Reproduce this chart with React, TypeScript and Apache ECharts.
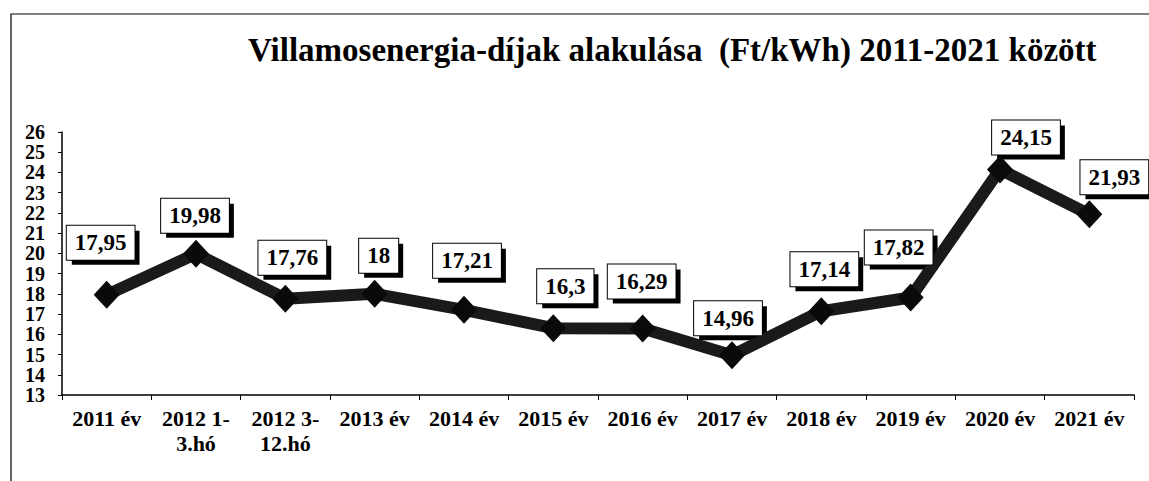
import React, { useEffect, useRef } from "react";
import * as echarts from "echarts";

const categories = [
  "2011 év",
  "2012 1-\n3.hó",
  "2012 3-\n12.hó",
  "2013 év",
  "2014 év",
  "2015 év",
  "2016 év",
  "2017 év",
  "2018 év",
  "2019 év",
  "2020 év",
  "2021 év",
];
const prices = [17.95, 19.98, 17.76, 18, 17.21, 16.3, 16.29, 14.96, 17.14, 17.82, 24.15, 21.93];
const titleText = "Villamosenergia-díjak alakulása  (Ft/kWh) 2011-2021 között";
const yMin = 13;
const yMax = 26;

// label box placement relative to each point (style only)
const labelOffsets: [number, number][] = [
  [-6, -52],
  [-1, -38],
  [7, -41],
  [4, -38],
  [3, -49],
  [12, -42],
  [-1, -47],
  [-4, -37],
  [3, -42],
  [-12, -50],
  [26, -32],
  [25, -37],
];

const FONT = "Liberation Serif, serif";
const LABEL_SIZE = 23;
const LABEL_LH = 24;
const PAD_V = 5;
const PAD_H = 8;
const SHADOW = 5;

const fmtValue = (v: number) => String(v).replace(".", ",");

let measureCtx: CanvasRenderingContext2D | null = null;
function textWidth(t: string): number {
  if (!measureCtx) measureCtx = document.createElement("canvas").getContext("2d");
  if (!measureCtx) return t.length * 12;
  measureCtx.font = `bold ${LABEL_SIZE}px 'Liberation Serif', serif`;
  return measureCtx.measureText(t).width;
}

export default function App() {
  const ref = useRef<HTMLDivElement>(null);
  useEffect(() => {
    if (!ref.current) return;
    const chart = echarts.init(ref.current, null, { renderer: "svg" });
    chart.setOption({
      animation: false,
      backgroundColor: "#ffffff",
      title: {
        text: titleText,
        left: 243,
        top: 28,
        textStyle: { fontFamily: FONT, fontWeight: "bold", fontSize: 33, color: "#000" },
      },
      graphic: [
        {
          type: "rect",
          shape: { x: 11, y: 14, width: 1160, height: 500 },
          style: { fill: "none", stroke: "#000", lineWidth: 1.2 },
          silent: true,
        },
      ],
      grid: { left: 62, right: 15, top: 132, bottom: 86 },
      xAxis: {
        type: "category",
        data: categories,
        boundaryGap: true,
        axisLine: { lineStyle: { color: "#000", width: 1.5 } },
        axisTick: { show: true, length: 5, lineStyle: { color: "#000" } },
        axisLabel: {
          fontFamily: FONT,
          fontWeight: "bold",
          fontSize: 22,
          color: "#000",
          lineHeight: 25,
          margin: 11,
          interval: 0,
        },
        splitLine: { show: false },
      },
      yAxis: {
        type: "value",
        min: yMin,
        max: yMax,
        interval: 1,
        axisLine: { show: true, lineStyle: { color: "#000", width: 1.5 } },
        axisTick: { show: true, length: 4, lineStyle: { color: "#000" } },
        axisLabel: {
          fontFamily: FONT,
          fontWeight: "bold",
          fontSize: 20,
          color: "#000",
          margin: 17,
          lineHeight: 19,
          showMinLabel: true,
          showMaxLabel: true,
        },
        splitLine: { show: false },
      },
      series: [
        {
          // solid drop shadows behind the value label boxes
          type: "custom",
          coordinateSystem: "cartesian2d",
          clip: false,
          silent: true,
          z: 1,
          data: prices.map((v, i) => [i, v]),
          renderItem: (params: any, api: any) => {
            const i = params.dataIndex;
            const pt = api.coord([api.value(0), api.value(1)]);
            const w = textWidth(fmtValue(prices[i])) + PAD_H * 2;
            const h = LABEL_LH + PAD_V * 2;
            const cx = pt[0] + labelOffsets[i][0];
            const cy = pt[1] + labelOffsets[i][1];
            return {
              type: "rect",
              shape: { x: cx - w / 2 + SHADOW, y: cy - h / 2 + SHADOW, width: w, height: h },
              style: { fill: "#000" },
            };
          },
        },
        {
          type: "line",
          data: prices.map((v, i) => ({
            value: v,
            label: { offset: labelOffsets[i] },
          })),
          lineStyle: { color: "#1a1a1a", width: 12 },
          itemStyle: { color: "#0a0a0a" },
          symbol: "diamond",
          symbolSize: [26, 28],
          label: {
            show: true,
            position: "inside",
            formatter: (p: any) => fmtValue(p.value),
            fontFamily: FONT,
            fontWeight: "bold",
            fontSize: LABEL_SIZE,
            lineHeight: LABEL_LH,
            padding: [PAD_V, PAD_H, PAD_V, PAD_H],
            color: "#000",
            backgroundColor: "#fff",
            borderColor: "#000",
            borderWidth: 1,
          },
          z: 2,
        },
      ],
    });
    return () => chart.dispose();
  }, []);
  return (
    <div
      ref={ref}
      style={{ position: "absolute", left: 0, top: 0, width: 1149, height: 481 }}
    />
  );
}
